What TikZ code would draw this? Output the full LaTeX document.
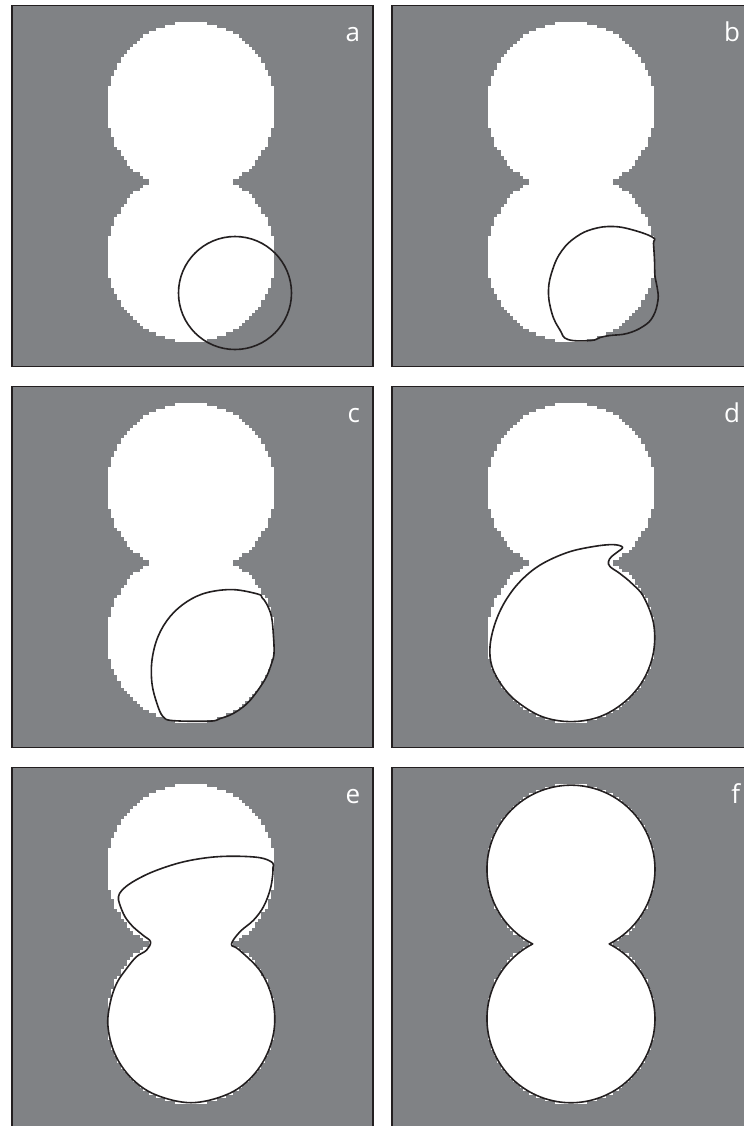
\documentclass[tikz,border=0pt]{standalone}
\usepackage{fontspec}
\setsansfont{Open Sans}
\definecolor{panelgray}{RGB}{128,130,133}
\definecolor{ink}{RGB}{35,31,32}
\newcommand{\pixsize}{3.2}
% pixelated two-disc mask, one row of pixels at a time
\newcommand{\pixblob}{%
  \foreach \k in {-50,...,49}{%
    \pgfmathsetmacro{\rowy}{176.25+\k*\pixsize}%
    \pgfmathsetmacro{\rowd}{max(min(abs(\rowy+0.5*\pixsize-101.5),abs(\rowy+0.5*\pixsize-251))-0.3*\pixsize,0)}%
    \pgfmathsetmacro{\roww}{round(sqrt(max(7056-\rowd*\rowd,0))/\pixsize)*\pixsize}%
    \fill[white] (179-\roww,\rowy-0.2) rectangle (179+\roww,\rowy+\pixsize+0.2);
  }}

\begin{document}
\begin{tikzpicture}[
  x=0.5pt, y=-0.5pt,
  panel/.style={draw=ink, line width=0.75pt, fill=panelgray},
  contour/.style={draw=ink, line width=0.8pt, line join=round},
  lbl/.style={font=\sffamily\fontsize{13}{13}\selectfont, text=white,
              anchor=base east, inner sep=0pt}
]
\useasboundingbox (0,0) rectangle (744,1126);
\clip (0,0) rectangle (744,1126);

%--- panels with the pixel mask ----------------------------------------------
\foreach \nm/\xx/\yy in {a/12/5.5, b/392/5.5, c/12/386.6, d/392/386.6,
                         e/12/767.7, f/392/767.7}{
  \begin{scope}[shift={(\xx,\yy)}]
    \draw[panel] (0,0) rectangle (361,361);
    \pixblob
    \node[lbl] (l\nm) at (348.5,36) {\nm};
  \end{scope}
}

%--- a: initial circle -------------------------------------------------------
\begin{scope}[shift={(12,5.5)}]
  \draw[contour] (223,287.5) circle[radius=56.5];
\end{scope}

%--- b -----------------------------------------------------------------------
\begin{scope}[shift={(392,5.5)}]
  \draw[contour] plot[smooth cycle, tension=0.7] coordinates {
    (261,232) (241,224.5) (221,221) (201,223.5) (184,231.5) (170,245) (161,263)
    (156.5,285) (160,308) (168,324.5) (176,334) (199,335) (208,332) (218,330)
    (235,328) (251,321) (261,311) (266,294.5) (265,281) (263,271) (262.5,254.5)
    (261.5,238)};
\end{scope}

%--- c -----------------------------------------------------------------------
\begin{scope}[shift={(12,386.6)}]
  \draw[contour] plot[smooth cycle, tension=0.6] coordinates {
    (246,207.5) (221,203) (195,206) (175,215) (158,230) (146,250) (140,273.5)
    (140,297) (145,317) (151,330) (161,334) (198,334.5) (208,332) (221,327)
    (235,317) (246,303.5) (254.5,290) (259.5,277) (262,267) (261.5,250)
    (259.5,230) (254.5,217) (250,211)};
\end{scope}

%--- d -----------------------------------------------------------------------
\begin{scope}[shift={(392,386.6)}]
  \draw[contour] plot[smooth cycle, tension=0.6] coordinates {
    (230.5,160.5) (221,158) (201,160) (175,166) (148,178.5) (128,195) (113,215)
    (103,237) (98,260) (100,280) (110,299) (125,315) (150,330) (179,335)
    (208,330) (233,315) (251.5,293) (261.5,265.5) (261.5,236.5) (251.5,210)
    (240,197) (228,187) (218,180) (216.5,175) (219.5,170) (226,165)};
\end{scope}

%--- e -----------------------------------------------------------------------
\begin{scope}[shift={(12,767.7)}]
  \draw[contour] plot[smooth cycle, tension=0.6] coordinates {
    (260.5,95) (248,90) (221,88.5) (195,90) (168,95) (141,104) (121,114)
    (110,122.5) (106.5,129) (107.5,136) (113,149) (121,159) (131,167.5)
    (138.5,174) (134.5,182.5) (124.5,189) (114.5,201) (104.5,216) (98,236)
    (96,259) (103,286.5) (119.5,310.5) (143.5,327) (179,335) (214.5,327)
    (238.5,310.5) (255,286.5) (262.5,258.5) (260,229.5) (248,203) (227,182)
    (219.5,176.5) (228,164) (241.5,152.5) (251.5,139) (258,122.5) (260.5,109)
    (261,100)};
\end{scope}

%--- f: converged --------------------------------------------------------------
\begin{scope}[shift={(392,767.7)}]
  \draw[contour, fill=white] (140.7,176.25)
    arc[start angle=117.1, end angle=422.9, radius=84]
    arc[start angle=-62.9, end angle=242.9, radius=84] -- cycle;
\end{scope}
\end{tikzpicture}
\end{document}
